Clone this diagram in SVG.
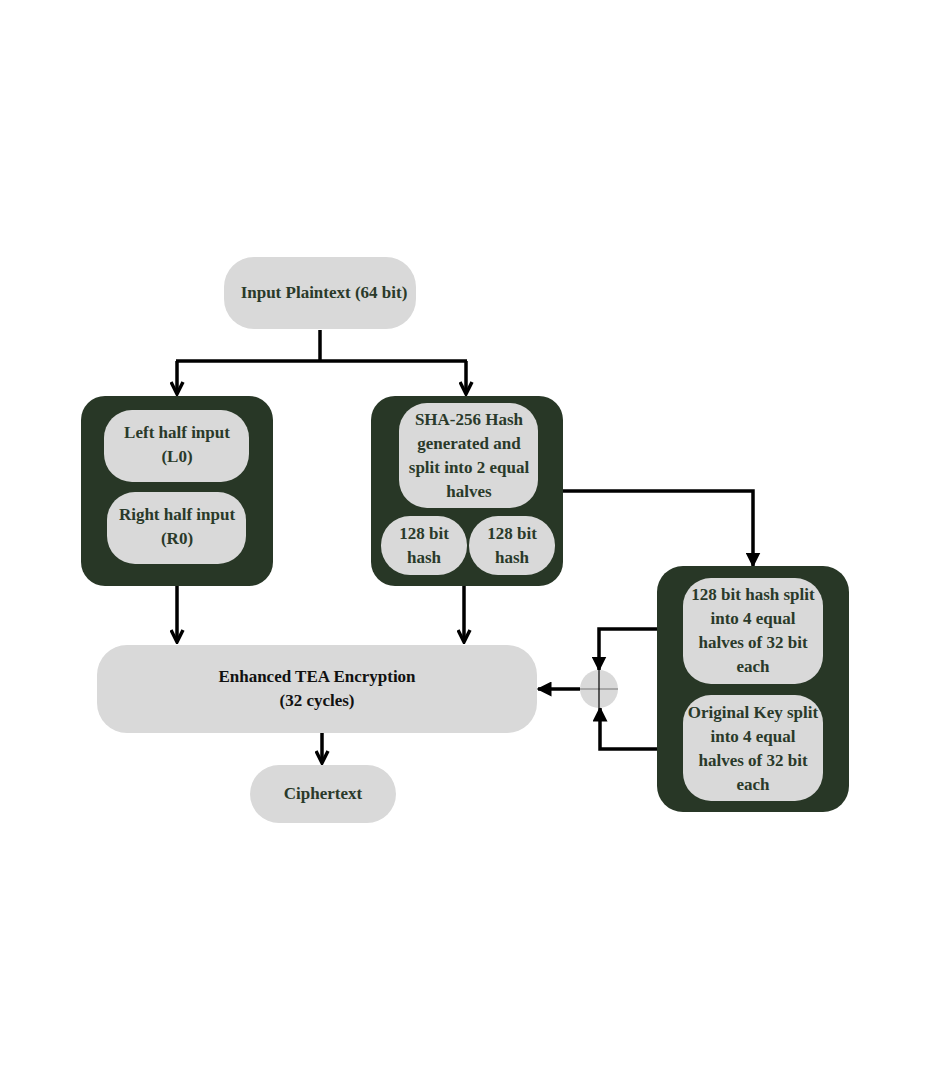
<svg xmlns="http://www.w3.org/2000/svg" width="926" height="1080" viewBox="0 0 926 1080">
<defs>
<style>
.lt{fill:#d9d9d9}
.dk{fill:#283726}
.t{font-family:"Liberation Serif","Times New Roman",serif;font-weight:bold;font-size:17px;fill:#2a3a2a;text-anchor:middle}
.tb{fill:#111}
.ln{fill:none;stroke:#000;stroke-width:3.5}
</style>
<marker id="v" viewBox="0 0 10 10" refX="9" refY="5" markerWidth="15" markerHeight="15" markerUnits="userSpaceOnUse" orient="auto">
<path d="M1,1 L9,5 L1,9" fill="none" stroke="#000" stroke-width="2.3"/>
</marker>
<marker id="tri" viewBox="0 0 10 10" refX="9" refY="5" markerWidth="15" markerHeight="15" markerUnits="userSpaceOnUse" orient="auto">
<path d="M0,0 L10,5 L0,10 Z" fill="#000"/>
</marker>
</defs>
<rect width="926" height="1080" fill="#fff"/>
<g id="connectors">
<path class="ln" d="M320,330 V361"/>
<path class="ln" d="M176,361 H467"/>
<path class="ln" d="M177,361 V394" marker-end="url(#v)"/>
<path class="ln" d="M466,361 V394" marker-end="url(#v)"/>
<path class="ln" d="M177,586 V642" marker-end="url(#v)"/>
<path class="ln" d="M464,586 V642" marker-end="url(#v)"/>
<path class="ln" d="M322,733 V763" marker-end="url(#v)"/>
<path class="ln" d="M563,491 H753 V566" marker-end="url(#tri)"/>
<path class="ln" d="M657,629 H599 V670" marker-end="url(#tri)"/>
<path class="ln" d="M657,749 H600 V708" marker-end="url(#tri)"/>
<path class="ln" d="M580,689 H538" marker-end="url(#tri)"/>
</g>
<g id="input">
<rect class="lt" x="224" y="257" width="192" height="72" rx="30"/>
<text class="t" x="324" y="298">Input Plaintext (64 bit)</text>
</g>
<g id="halves">
<rect class="dk" x="81" y="396" width="192" height="190" rx="24"/>
<rect class="lt" x="104" y="410" width="145" height="72" rx="28"/>
<text class="t" x="177" y="438">Left half input</text>
<text class="t" x="177" y="462">(L0)</text>
<rect class="lt" x="107" y="492" width="139" height="72" rx="28"/>
<text class="t" x="177" y="520">Right half input</text>
<text class="t" x="177" y="544">(R0)</text>
</g>
<g id="sha">
<rect class="dk" x="371" y="396" width="192" height="190" rx="24"/>
<rect class="lt" x="399" y="403" width="139" height="105" rx="28"/>
<text class="t" x="469" y="425">SHA-256 Hash</text>
<text class="t" x="469" y="449">generated and</text>
<text class="t" x="469" y="473">split into 2 equal</text>
<text class="t" x="469" y="497">halves</text>
<rect class="lt" x="381" y="516" width="86" height="59" rx="29"/>
<text class="t" x="424" y="539">128 bit</text>
<text class="t" x="424" y="563">hash</text>
<rect class="lt" x="469" y="516" width="86" height="59" rx="29"/>
<text class="t" x="512" y="539">128 bit</text>
<text class="t" x="512" y="563">hash</text>
</g>
<g id="keys">
<rect class="dk" x="657" y="566" width="192" height="246" rx="26"/>
<rect class="lt" x="683" y="578" width="140" height="106" rx="28"/>
<text class="t" x="753" y="600">128 bit hash split</text>
<text class="t" x="753" y="624">into 4 equal</text>
<text class="t" x="753" y="648">halves of 32 bit</text>
<text class="t" x="753" y="672">each</text>
<rect class="lt" x="683" y="695" width="140" height="106" rx="28"/>
<text class="t" x="753" y="718">Original Key split</text>
<text class="t" x="753" y="742">into 4 equal</text>
<text class="t" x="753" y="766">halves of 32 bit</text>
<text class="t" x="753" y="790">each</text>
</g>
<g id="xor">
<circle class="lt" cx="599" cy="689" r="19"/>
<line x1="580" y1="689" x2="618" y2="689" stroke="#777" stroke-width="1.2"/>
<line x1="599" y1="670" x2="599" y2="708" stroke="#000" stroke-width="1.2"/>
</g>
<g id="tea">
<rect class="lt" x="97" y="645" width="440" height="88" rx="30"/>
<text class="t tb" x="317" y="682">Enhanced TEA Encryption</text>
<text class="t tb" x="317" y="706">(32 cycles)</text>
</g>
<g id="cipher">
<rect class="lt" x="250" y="765" width="146" height="58" rx="29"/>
<text class="t" x="323" y="799">Ciphertext</text>
</g>
</svg>
